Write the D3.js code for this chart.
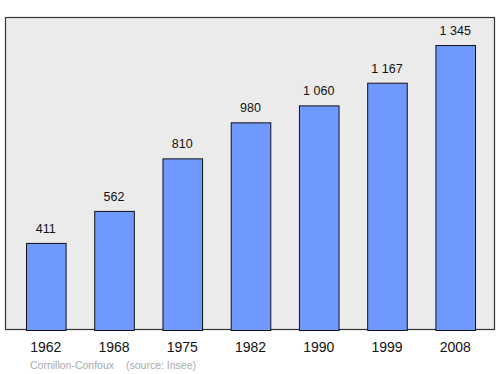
<!DOCTYPE html>
<html>
<head>
<meta charset="utf-8">
<script src="https://cdn.jsdelivr.net/npm/d3@7"></script>
<style>
  body { margin: 0; background: #fff; }
  text { font-family: "Liberation Sans", Arial, sans-serif; }
</style>
</head>
<body>
<div class="chart"></div>
<script>
// population data
var years = ["1962", "1968", "1975", "1982", "1990", "1999", "2008"];
var population = [411, 562, 810, 980, 1060, 1167, 1345];
var valueLabels = ["411", "562", "810", "980", "1 060", "1 167", "1 345"];
var townName = "Cornillon-Confoux";
var sourceText = "(source: Insee)";

var svgWidth = 500;
var svgHeight = 374;

var svg = d3.select(".chart")
  .append("svg")
  .attr("width", svgWidth)
  .attr("height", svgHeight);

// grey panel
svg.append("rect")
  .attr("x", 5.5)
  .attr("y", 17.5)
  .attr("width", 489)
  .attr("height", 312)
  .attr("fill", "#ebebeb")
  .attr("stroke", "#333")
  .attr("stroke-width", 1.2);

var xScale = d3.scaleBand()
  .domain(years)
  .range([26, 475])
  .paddingInner(0.42)
  .paddingOuter(0);

var yScale = d3.scaleLinear()
  .domain([0, 1345])
  .range([330, 45]);

var data = years.map(function (y, i) {
  return { year: y, pop: population[i], label: valueLabels[i] };
});

// bars
svg.selectAll("rect.bar")
  .data(data)
  .enter()
  .append("rect")
  .attr("class", "bar")
  .attr("x", d => xScale(d.year) + 0.5)
  .attr("y", d => yScale(d.pop) + 0.5)
  .attr("width", xScale.bandwidth())
  .attr("height", d => yScale(0) - yScale(d.pop))
  .attr("fill", "#7099ff")
  .attr("stroke", "#111")
  .attr("stroke-width", 1);

// value labels
svg.selectAll("text.val")
  .data(data)
  .enter()
  .append("text")
  .attr("class", "val")
  .attr("x", d => xScale(d.year) + xScale.bandwidth() / 2)
  .attr("y", d => yScale(d.pop) - 10)
  .attr("text-anchor", "middle")
  .attr("font-size", "12.5px")
  .attr("fill", "#111")
  .text(d => d.label);

// year axis labels
svg.selectAll("text.year")
  .data(data)
  .enter()
  .append("text")
  .attr("class", "year")
  .attr("x", d => xScale(d.year) + xScale.bandwidth() / 2)
  .attr("y", 352)
  .attr("text-anchor", "middle")
  .attr("font-size", "14px")
  .attr("fill", "#111")
  .text(d => d.year);

// footer
svg.append("text")
  .attr("x", 30)
  .attr("y", 369)
  .attr("font-size", "10.5px")
  .attr("fill", "#aaa")
  .text(townName);

svg.append("text")
  .attr("x", 126)
  .attr("y", 369)
  .attr("font-size", "10.5px")
  .attr("fill", "#aaa")
  .text(sourceText);
</script>
</body>
</html>
